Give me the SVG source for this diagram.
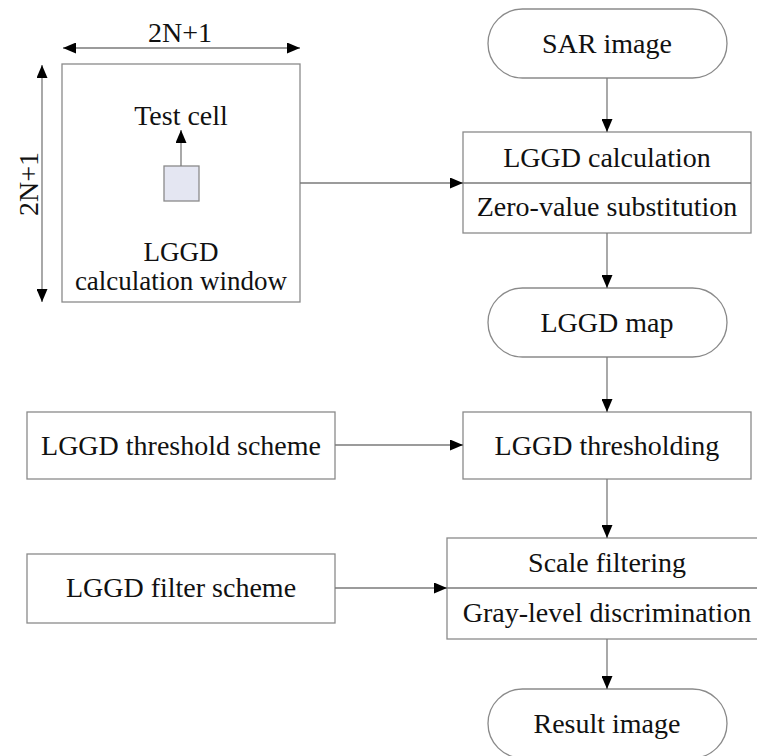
<svg xmlns="http://www.w3.org/2000/svg" width="757" height="756" viewBox="0 0 757 756">
  <defs>
    <marker id="arrow" markerUnits="userSpaceOnUse" markerWidth="13" markerHeight="11" refX="13" refY="5.5" orient="auto-start-reverse">
      <path d="M0,0 L13,5.5 L0,11 Z" fill="#000"/>
    </marker>
    <style>
      .box { fill: #fff; stroke: #8a8a8a; stroke-width: 1.3; }
      .line { fill: none; stroke: #7a7a7a; stroke-width: 1.3; }
      .cell { fill: #e4e6f2; stroke: #8a8a8a; stroke-width: 1.3; }
      text { font-family: "Liberation Serif", "Times New Roman", serif; font-size: 28px; fill: #111; text-anchor: middle; }
      .tight { font-size: 27px; }
    </style>
  </defs>
  <rect width="757" height="756" fill="#fff"/>

  <!-- calculation window with its dimension arrows -->
  <g id="window">
    <rect class="box" x="62" y="64" width="238" height="238"/>
    <rect class="cell" x="164" y="166" width="35" height="35"/>
    <text x="181" y="125">Test cell</text>
    <text class="tight" x="181" y="261">LGGD</text>
    <text class="tight" x="181" y="290">calculation window</text>
  </g>
  <g id="dimensions">
    <line class="line" x1="63" y1="48" x2="300" y2="48" marker-start="url(#arrow)" marker-end="url(#arrow)"/>
    <text x="180" y="42">2N+1</text>
    <line class="line" x1="42" y1="65" x2="42" y2="302" marker-start="url(#arrow)" marker-end="url(#arrow)"/>
    <text transform="translate(38,184) rotate(-90)">2N+1</text>
  </g>

  <g id="sar-image">
    <rect class="box" x="488" y="9" width="239" height="69" rx="34.5"/>
    <text x="607" y="53">SAR image</text>
  </g>

  <g id="lggd-calculation">
    <rect class="box" x="463" y="132" width="288" height="101"/>
    <line class="line" x1="463" y1="183" x2="751" y2="183"/>
    <text x="607" y="167">LGGD calculation</text>
    <text x="607" y="216">Zero-value substitution</text>
  </g>

  <g id="lggd-map">
    <rect class="box" x="488" y="288" width="239" height="69" rx="34.5"/>
    <text x="607" y="332">LGGD map</text>
  </g>

  <g id="threshold-scheme">
    <rect class="box" x="27" y="412" width="308" height="67"/>
    <text x="181" y="455">LGGD threshold scheme</text>
  </g>

  <g id="thresholding">
    <rect class="box" x="463" y="412" width="288" height="67"/>
    <text x="607" y="455">LGGD thresholding</text>
  </g>

  <g id="filter-scheme">
    <rect class="box" x="27" y="554" width="308" height="69"/>
    <text x="181" y="597">LGGD filter scheme</text>
  </g>

  <g id="filtering">
    <rect class="box" x="447" y="538" width="322" height="101"/>
    <line class="line" x1="447" y1="588" x2="769" y2="588"/>
    <text x="607" y="572">Scale filtering</text>
    <text x="607" y="622">Gray-level discrimination</text>
  </g>

  <g id="result-image">
    <rect class="box" x="488" y="689" width="239" height="69" rx="34.5"/>
    <text x="607" y="733">Result image</text>
  </g>

  <g id="connectors">
    <line class="line" x1="181" y1="166" x2="181" y2="130" marker-end="url(#arrow)"/>
    <line class="line" x1="300" y1="183" x2="463" y2="183" marker-end="url(#arrow)"/>
    <line class="line" x1="607" y1="78" x2="607" y2="132" marker-end="url(#arrow)"/>
    <line class="line" x1="607" y1="233" x2="607" y2="288" marker-end="url(#arrow)"/>
    <line class="line" x1="607" y1="357" x2="607" y2="412" marker-end="url(#arrow)"/>
    <line class="line" x1="335" y1="445" x2="463" y2="445" marker-end="url(#arrow)"/>
    <line class="line" x1="607" y1="479" x2="607" y2="538" marker-end="url(#arrow)"/>
    <line class="line" x1="335" y1="588" x2="447" y2="588" marker-end="url(#arrow)"/>
    <line class="line" x1="607" y1="639" x2="607" y2="689" marker-end="url(#arrow)"/>
  </g>
</svg>
